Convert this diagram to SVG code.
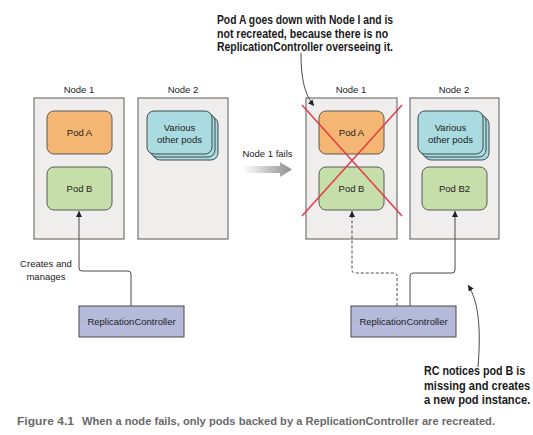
<svg xmlns="http://www.w3.org/2000/svg" width="533" height="435" viewBox="0 0 533 435">
<style>
.bg{fill:#ffffff}
.node{fill:#efeeed;stroke:#5a5a5a;stroke-width:1}
.podA{fill:#f4b673;stroke:#5a5a5a;stroke-width:1}
.podB{fill:#c6dea9;stroke:#5a5a5a;stroke-width:1}
.var{fill:#a9dbe0;stroke:#3e4a4c;stroke-width:1}
.rc{fill:#b5b9da;stroke:#4a4a4a;stroke-width:1}
.t{font-family:"Liberation Sans",Arial,sans-serif;font-size:9.5px;fill:#222;text-anchor:middle}
.ann{font-family:"Liberation Sans",Arial,sans-serif;font-weight:bold;font-size:12.5px;fill:#1a1a1a}
.cap{font-family:"Liberation Sans",Arial,sans-serif;font-weight:bold;font-size:11px;fill:#6a6a6a}
.conn{fill:none;stroke:#4a4a4a;stroke-width:1}
.dash{stroke-dasharray:3,2}
.x{stroke:#e63a44;stroke-width:1.5}
</style>
<defs>
<marker id="ah" viewBox="0 0 8 8" refX="8" refY="4" markerWidth="6" markerHeight="6" markerUnits="userSpaceOnUse" orient="auto">
<path d="M0,0 L8,4 L0,8 z" fill="#222"/>
</marker>
<linearGradient id="fg" x1="0" y1="0" x2="1" y2="0">
<stop offset="0" stop-color="#ffffff"/>
<stop offset="1" stop-color="#8e8e8e"/>
</linearGradient>
</defs>
<rect class="bg" x="0" y="0" width="533" height="435"/>

<g id="left-node1">
<text class="t" x="79" y="92.5">Node 1</text>
<rect class="node" x="34" y="98" width="90" height="141"/>
</g>
<g id="left-podA">
<rect class="podA" x="47" y="111" width="65" height="43" rx="7"/>
<text class="t" x="79.5" y="136">Pod A</text>
</g>
<g id="left-podB">
<rect class="podB" x="47" y="167" width="65" height="43" rx="7"/>
<text class="t" x="79.5" y="192">Pod B</text>
</g>
<g id="left-node2">
<text class="t" x="183" y="92.5">Node 2</text>
<rect class="node" x="138" y="98" width="90" height="141"/>
</g>
<g id="left-various">
<rect class="var" x="153" y="117" width="65" height="43" rx="7"/>
<rect class="var" x="150" y="114" width="65" height="43" rx="7"/>
<rect class="var" x="147" y="111" width="65" height="43" rx="7"/>
<text class="t" x="179.5" y="130.5">Various</text>
<text class="t" x="179.5" y="143">other pods</text>
</g>
<g id="left-rc">
<rect class="rc" x="79" y="306" width="105" height="31"/>
<text class="t" x="131.5" y="325">ReplicationController</text>
</g>

<g id="fail-arrow">
<text class="t" x="267.5" y="157">Node 1 fails</text>
<path d="M243,166 L280,166 L280,162 L292,169.5 L280,177 L280,173 L243,173 z" fill="url(#fg)"/>
</g>

<g id="right-node1">
<text class="t" x="351" y="92.5">Node 1</text>
<rect class="node" x="306" y="98" width="91" height="141"/>
</g>
<g id="right-podA">
<rect class="podA" x="319" y="111" width="65" height="43" rx="7"/>
<text class="t" x="351.5" y="136">Pod A</text>
</g>
<g id="right-podB">
<rect class="podB" x="319" y="167" width="65" height="43" rx="7"/>
<text class="t" x="351.5" y="192">Pod B</text>
</g>
<g id="red-x">
<line class="x" x1="302" y1="105" x2="402" y2="216"/>
<line class="x" x1="402" y1="105" x2="302" y2="216"/>
</g>
<g id="right-node2">
<text class="t" x="454" y="92.5">Node 2</text>
<rect class="node" x="410" y="98" width="89" height="141"/>
</g>
<g id="right-various">
<rect class="var" x="424" y="117" width="65" height="43" rx="7"/>
<rect class="var" x="421" y="114" width="65" height="43" rx="7"/>
<rect class="var" x="418" y="111" width="65" height="43" rx="7"/>
<text class="t" x="450.5" y="130.5">Various</text>
<text class="t" x="450.5" y="143">other pods</text>
</g>
<g id="right-podB2">
<rect class="podB" x="422" y="167" width="65" height="43" rx="7"/>
<text class="t" x="454.5" y="192">Pod B2</text>
</g>
<g id="right-rc">
<rect class="rc" x="351" y="306" width="105" height="31"/>
<text class="t" x="403.5" y="325">ReplicationController</text>
</g>

<g id="connectors">
<path class="conn" d="M131,306 L131,274 Q131,271 128,271 L82,271 Q79,271 79,268 L79,211" marker-end="url(#ah)"/>
<path class="conn dash" d="M397,306 L397,276 Q397,273 394,273 L355,273 Q352,273 352,270 L352,211" marker-end="url(#ah)"/>
<path class="conn" d="M410,306 L410,276 Q410,273 413,273 L452,273 Q455,273 455,270 L455,211" marker-end="url(#ah)"/>
<path class="conn" d="M301,53 C301,80 305,95 314,106" marker-end="url(#ah)"/>
<path class="conn" d="M478,367 C481,330 479,302 468,285" marker-end="url(#ah)"/>
</g>

<g id="labels">
<text class="t" x="46" y="267">Creates and</text>
<text class="t" x="46" y="280">manages</text>
<g transform="translate(217,0) scale(0.8,1)">
<text class="ann" x="0" y="24.5" textLength="220" lengthAdjust="spacingAndGlyphs">Pod A goes down with Node I and is</text>
<text class="ann" x="0" y="38" textLength="214" lengthAdjust="spacingAndGlyphs">not recreated, because there is no</text>
<text class="ann" x="0" y="51.5" textLength="220" lengthAdjust="spacingAndGlyphs">ReplicationController overseeing it.</text>
</g>
<g transform="translate(424,0) scale(0.85,1)">
<text class="ann" x="0" y="375" font-size="13" textLength="119" lengthAdjust="spacingAndGlyphs">RC notices pod B is</text>
<text class="ann" x="0" y="390" font-size="13" textLength="125" lengthAdjust="spacingAndGlyphs">missing and creates</text>
<text class="ann" x="0" y="404.5" font-size="13" textLength="125" lengthAdjust="spacingAndGlyphs">a new pod instance.</text>
</g>
<text class="cap" x="17" y="425" textLength="57" lengthAdjust="spacingAndGlyphs">Figure 4.1</text>
<text class="cap" x="82" y="425" textLength="413" lengthAdjust="spacingAndGlyphs">When a node fails, only pods backed by a ReplicationController are recreated.</text>
</g>
</svg>
